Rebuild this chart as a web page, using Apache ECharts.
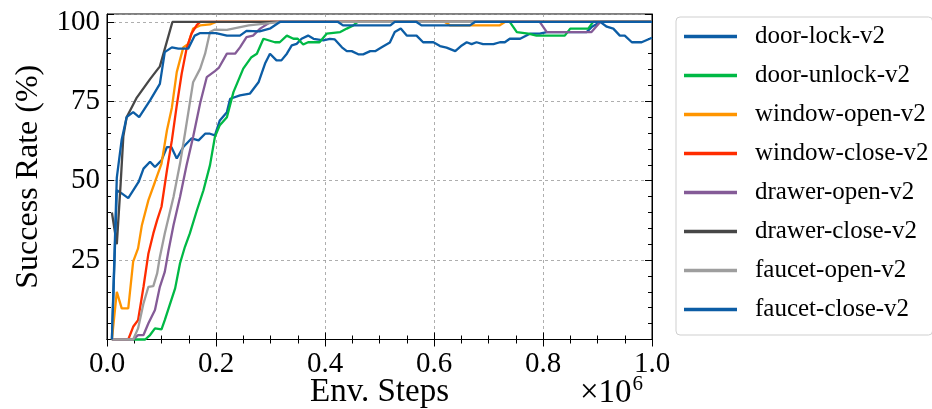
<!DOCTYPE html>
<html>
<head>
<meta charset="utf-8">
<script src="https://cdn.jsdelivr.net/npm/echarts@6/dist/echarts.min.js"></script>
<style>
  html, body { margin: 0; padding: 0; background: #fff; }
  #chart_block { width: 932px; height: 409px; }
</style>
</head>
<body>
<div id="chart_block"></div>
<script>
// x in units of 1e6 env steps, y = success rate (%)
var names = ['door-lock-v2', 'door-unlock-v2', 'window-open-v2', 'window-close-v2',
  'drawer-open-v2', 'drawer-close-v2', 'faucet-open-v2', 'faucet-close-v2'];
var colors = ['#0C5DA5', '#00B945', '#FF9500', '#FF2C00', '#845B97', '#474747', '#9e9e9e', '#0C5DA5'];

var door_lock = [[0.009,0],[0.018,47],[0.027,46],[0.039,44.5],[0.058,49.6],[0.067,53.8],[0.079,56],[0.088,54.3],
  [0.1,56.4],[0.11,60.6],[0.118,60.6],[0.128,57],[0.14,60.6],[0.155,63.3],[0.168,62.7],[0.18,64.8],[0.189,64.8],
  [0.198,64.3],[0.207,69],[0.22,71.6],[0.226,75.8],[0.244,76.9],[0.262,77.4],[0.278,81],[0.29,86.9],[0.299,90],
  [0.311,87.9],[0.32,87.9],[0.33,90],[0.339,92.6],[0.348,93.1],[0.357,94.7],[0.369,95.7],[0.379,94.7],[0.397,94.2],
  [0.409,94.7],[0.418,94.5],[0.431,92],[0.44,90.8],[0.449,90.8],[0.461,89.8],[0.47,89.8],[0.483,90.8],[0.492,90.8],
  [0.504,92],[0.519,93.5],[0.528,96.8],[0.539,97.9],[0.55,95.7],[0.568,95.7],[0.58,93.6],[0.599,93.6],[0.611,92.4],
  [0.623,91.9],[0.639,90.8],[0.651,92.6],[0.66,93.6],[0.669,93],[0.678,93.6],[0.69,93],[0.709,93],[0.721,93.6],
  [0.73,93.6],[0.739,94.7],[0.758,94.7],[0.776,96.3],[0.794,96.3],[0.807,96.8],[0.88,96.8],[0.89,98.5],[0.905,100],
  [0.917,98.5],[0.929,97.9],[0.941,95.7],[0.95,95.7],[0.963,93.6],[0.981,93.6],[1.0,95]];
var door_unlock = [[0.009,0],[0.07,0],[0.079,1.4],[0.088,3.5],[0.1,3.2],[0.106,6.1],[0.116,11.4],[0.125,16.1],
  [0.134,24],[0.143,29.2],[0.152,33.4],[0.165,40.7],[0.177,47],[0.189,54.9],[0.198,63.8],[0.207,67.5],[0.22,70],
  [0.232,77.9],[0.25,85.3],[0.265,88.9],[0.275,90],[0.287,94.7],[0.308,93.6],[0.317,93.6],[0.33,95.7],[0.342,94.7],
  [0.35,94.7],[0.36,92.9],[0.369,93.6],[0.39,93.6],[0.403,96.3],[0.428,96.8],[0.44,97.9],[0.452,98.9],[0.46,100],
  [0.739,100],[0.752,96.8],[0.773,96.3],[0.788,95.7],[0.84,95.7],[0.85,97.9],[0.883,97.9],[0.892,100],[1.0,100]];
var window_open = [[0.009,0],[0.018,15],[0.027,9.8],[0.039,9.8],[0.048,24.5],[0.057,28.7],[0.064,36],[0.076,43.9],
  [0.088,49.6],[0.1,55.4],[0.11,65.9],[0.119,73],[0.128,84.2],[0.14,92],[0.149,93.1],[0.158,97.9],[0.171,98.9],
  [0.189,99.2],[0.2,100],[0.62,100],[0.63,98.9],[0.72,98.9],[0.73,100],[1.0,100]];
var window_close = [[0.009,0],[0.039,0],[0.048,4],[0.057,6.1],[0.067,16.6],[0.076,27.1],[0.085,33.4],[0.092,37.6],
  [0.1,41.8],[0.11,53.3],[0.119,62.7],[0.128,73.7],[0.137,83.7],[0.146,91.6],[0.155,96.3],[0.165,99.1],[0.171,100],[1.0,100]];
var drawer_open = [[0.009,0],[0.048,0],[0.057,1.4],[0.067,1.4],[0.076,5.1],[0.088,9.3],[0.097,16.6],[0.106,21.3],
  [0.113,28.1],[0.122,36],[0.134,44.9],[0.146,54.9],[0.158,63.8],[0.171,74.5],[0.183,82.6],[0.198,84.5],[0.205,85.5],
  [0.22,90],[0.235,90],[0.244,92],[0.256,95.2],[0.268,95.7],[0.281,97.9],[0.3,100],[0.794,100],[0.807,96.8],
  [0.889,96.8],[0.905,100],[1.0,100]];
var drawer_close = [[0.009,40],[0.018,30],[0.025,49],[0.03,64],[0.036,70],[0.054,76],[0.079,82],[0.097,86],[0.12,100],[1.0,100]];
var faucet_open = [[0.009,0],[0.048,0],[0.057,3.5],[0.067,11.4],[0.076,16.6],[0.085,16.8],[0.092,20.8],[0.097,26],
  [0.106,33.4],[0.122,44.9],[0.134,55.4],[0.143,64.8],[0.152,74.5],[0.158,81],[0.171,85.3],[0.18,90],[0.189,96.8],
  [0.198,97.6],[0.22,97.5],[0.26,98.9],[0.32,100],[1.0,100]];
var faucet_close = [[0.009,0],[0.018,51],[0.027,63],[0.036,70],[0.048,71.6],[0.059,70],[0.079,75.3],[0.097,80.5],
  [0.106,90.5],[0.119,92],[0.131,91.6],[0.149,91.6],[0.161,95.7],[0.171,96.5],[0.2,96.5],[0.22,95.7],[0.244,95.7],
  [0.256,97.2],[0.28,97],[0.3,98],[0.317,100],[0.424,100],[0.433,98.9],[0.52,98.9],[0.528,100],[0.568,100],
  [0.577,98.9],[0.666,98.9],[0.675,100],[1.0,100]];

var all_data = [door_lock, door_unlock, window_open, window_close, drawer_open, drawer_close, faucet_open, faucet_close];

var xTicks = { min: 0, max: 1, interval: 0.2 };
var serif = '"Liberation Serif", "DejaVu Serif", serif';

var chartDom = document.getElementById('chart_block');
var myChart = echarts.init(chartDom, null, { renderer: 'canvas' });

var series = [];
for (var i = 0; i < names.length; i++) {
  series.push({
    name: names[i],
    type: 'line',
    data: all_data[i],
    showSymbol: false,
    symbol: 'none',
    clip: false,
    lineStyle: { width: 2.3, color: colors[i] },
    itemStyle: { color: colors[i] },
    z: 3 + i
  });
}

var gridLine = { show: true, lineStyle: { color: '#9a9a9a', type: [3, 3], width: 0.8 } };

var options = {
  animation: false,
  backgroundColor: '#fff',
  grid: {
    left: 107, right: 280, top: 14, bottom: 69.5,
    outerBoundsMode: 'none', containLabel: false,
    show: true, borderColor: '#000', borderWidth: 1
  },
  legend: {
    orient: 'vertical',
    left: 676,
    top: 17,
    data: names,
    icon: 'rect',
    itemWidth: 53,
    itemHeight: 3.5,
    itemGap: 14,
    padding: [7, 4, 13, 8],
    backgroundColor: '#fff',
    borderColor: '#cfcfcf',
    borderWidth: 1,
    borderRadius: 4,
    textStyle: { fontFamily: serif, fontSize: 25, color: '#000', lineHeight: 25, padding: [0, 0, 0, 13] }
  },
  xAxis: [
    {
      type: 'value', min: xTicks.min, max: xTicks.max, interval: xTicks.interval, position: 'bottom',
      axisLine: { show: true, lineStyle: { color: '#000', width: 1 } },
      axisTick: { show: true, inside: true, length: 7, lineStyle: { color: '#000' } },
      minorTick: { show: true, splitNumber: 4, length: 4, lineStyle: { color: '#000' } },
      axisLabel: { formatter: function (v) { return v.toFixed(1); }, fontFamily: serif, fontSize: 29, color: '#000', margin: 10 },
      splitLine: gridLine,
      name: 'Env. Steps', nameLocation: 'middle', nameGap: 36, nameMoveOverlap: false,
      nameTextStyle: { fontFamily: serif, fontSize: 33, color: '#000', verticalAlign: 'top' }
    },
    {
      type: 'value', min: xTicks.min, max: xTicks.max, interval: xTicks.interval, position: 'top',
      axisLine: { show: true, lineStyle: { color: '#000', width: 1 } },
      axisTick: { show: true, inside: true, length: 7, lineStyle: { color: '#000' } },
      minorTick: { show: true, splitNumber: 4, length: 4, lineStyle: { color: '#000' } },
      axisLabel: { show: false },
      splitLine: { show: false }
    }
  ],
  yAxis: [
    {
      type: 'value', min: 0, max: 102.5, interval: 25, position: 'left',
      axisLine: { show: true, lineStyle: { color: '#000', width: 1 } },
      axisTick: { show: true, inside: true, length: 7, lineStyle: { color: '#000' } },
      axisLabel: {
        formatter: function (v) { return (v % 25 === 0 && v > 0) ? String(v) : ''; },
        fontFamily: serif, fontSize: 29, color: '#000', margin: 7
      },
      splitLine: gridLine,
      name: 'Success Rate (%)', nameLocation: 'middle', nameGap: 62, nameMoveOverlap: false,
      nameTextStyle: { fontFamily: serif, fontSize: 32, color: '#000' }
    },
    {
      type: 'value', min: 0, max: 102.5, interval: 5, position: 'left',
      axisLine: { show: false },
      axisTick: { show: true, inside: true, length: 4, lineStyle: { color: '#000' } },
      axisLabel: { show: false },
      splitLine: { show: false }
    },
    {
      type: 'value', min: 0, max: 102.5, interval: 25, position: 'right',
      axisLine: { show: true, lineStyle: { color: '#000', width: 1 } },
      axisTick: { show: true, inside: true, length: 7, lineStyle: { color: '#000' } },
      axisLabel: { show: false },
      splitLine: { show: false }
    },
    {
      type: 'value', min: 0, max: 102.5, interval: 5, position: 'right',
      axisLine: { show: false },
      axisTick: { show: true, inside: true, length: 4, lineStyle: { color: '#000' } },
      axisLabel: { show: false },
      splitLine: { show: false }
    }
  ],
  graphic: [
    {
      type: 'text', left: 580, top: 374, z: 10,
      style: {
        text: '{a|×10}{b|6}',
        rich: {
          a: { fontFamily: serif, fontSize: 33, fill: '#000', verticalAlign: 'bottom' },
          b: { fontFamily: serif, fontSize: 21, fill: '#000', verticalAlign: 'top', padding: [0, 0, 15, 1] }
        }
      }
    }
  ],
  series: series
};

myChart.setOption(options, true);
</script>
</body>
</html>
